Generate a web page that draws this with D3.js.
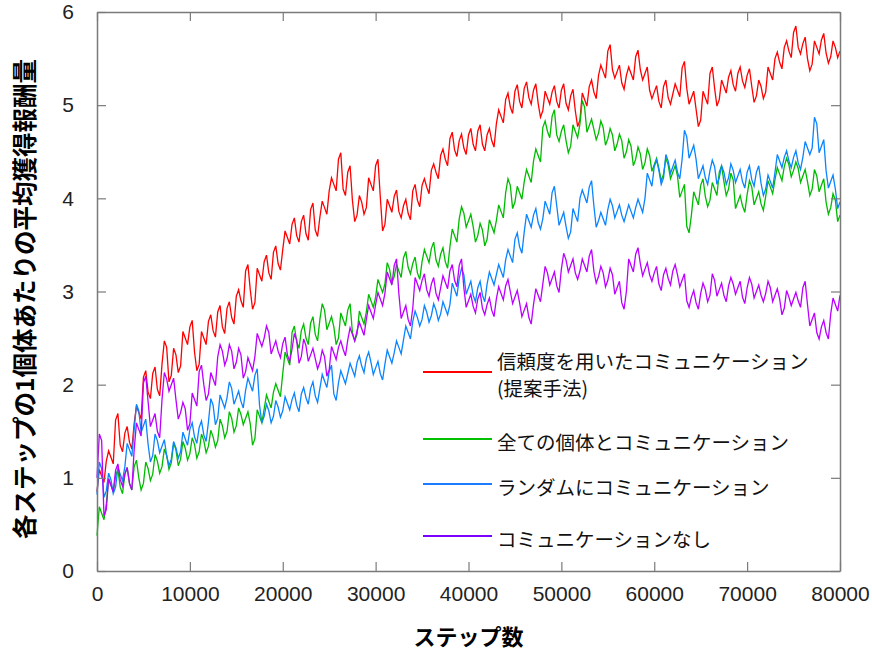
<!DOCTYPE html>
<html>
<head>
<meta charset="utf-8">
<script src="https://cdn.jsdelivr.net/npm/d3@7"></script>
<style>
  body { margin: 0; background: #fff; }
  .tick text { font-family: "Liberation Sans", Arial, sans-serif; fill: #222; }
  .jp { font-family: "Noto Sans CJK JP", sans-serif; }
</style>
</head>
<body>
<div id="chart"></div>
<script>
      // series values, one sample every 250 steps (0 .. 80000)
      var stepSize = 250;
      var proposed = [
        0.85,1.09,1.02,0.95,1.18,1.29,1.22,1.15,1.62,1.69,1.35,1.28,1.48,1.55,1.38,1.31,1.58,1.77,1.70,1.63,
        2.08,2.15,1.92,1.85,2.12,2.19,1.95,1.88,2.22,2.47,2.40,2.03,2.10,2.39,2.32,2.13,2.20,2.57,2.50,2.43,
        2.62,2.69,2.35,2.15,2.22,2.57,2.50,2.43,2.68,2.75,2.58,2.51,2.78,2.85,2.62,2.55,2.82,2.89,2.72,2.65,
        2.95,3.02,2.90,2.83,3.22,3.29,3.02,2.81,2.88,3.25,3.18,3.11,3.32,3.39,3.20,3.13,3.42,3.49,3.30,3.23,
        3.45,3.65,3.58,3.51,3.72,3.79,3.60,3.53,3.75,3.82,3.62,3.55,3.88,3.95,3.66,3.59,3.80,3.97,3.90,3.83,
        4.08,4.22,4.15,4.08,4.42,4.49,4.10,4.03,4.28,4.35,3.98,3.75,3.82,4.03,3.96,3.83,3.90,4.22,4.15,4.08,
        4.35,4.42,4.02,3.65,3.72,3.99,3.92,3.85,4.02,4.09,3.86,3.79,3.92,3.99,3.84,3.77,4.08,4.15,3.98,3.91,
        4.14,4.21,4.12,4.05,4.30,4.37,4.28,4.21,4.46,4.53,4.42,4.35,4.64,4.71,4.52,4.45,4.62,4.69,4.54,4.47,
        4.68,4.75,4.58,4.51,4.72,4.79,4.58,4.51,4.68,4.75,4.62,4.55,4.80,4.95,4.88,4.81,5.06,5.13,4.98,4.91,
        5.15,5.22,5.04,4.97,5.18,5.25,5.08,5.01,5.16,5.23,5.02,4.87,4.94,5.15,5.08,5.01,5.14,5.21,5.04,4.97,
        5.16,5.23,5.02,4.95,5.10,5.17,4.94,4.77,4.84,5.13,5.06,4.99,5.20,5.27,5.14,5.07,5.32,5.43,5.36,5.29,
        5.58,5.65,5.38,5.29,5.36,5.43,5.24,5.17,5.32,5.41,5.34,5.27,5.52,5.59,5.38,5.27,5.34,5.41,5.16,5.07,
        5.14,5.21,5.04,4.97,5.20,5.27,5.08,5.01,5.12,5.23,5.16,5.09,5.40,5.47,5.18,5.01,5.08,5.15,4.96,4.77,
        4.84,5.15,5.08,5.01,5.34,5.41,5.18,4.99,5.06,5.27,5.20,5.13,5.30,5.37,5.22,5.15,5.34,5.41,5.26,5.19,
        5.32,5.39,5.20,5.03,5.10,5.27,5.20,5.07,5.14,5.41,5.34,5.27,5.50,5.57,5.46,5.39,5.62,5.69,5.58,5.51,
        5.78,5.85,5.62,5.55,5.66,5.73,5.50,5.37,5.44,5.69,5.62,5.55,5.70,5.77,5.56,5.45,5.52,5.69,5.62,5.51,
        5.58];
      var allComm = [
        0.38,0.69,0.62,0.55,0.72,0.99,0.92,0.85,1.02,1.09,0.90,0.83,1.04,1.11,0.94,0.87,1.12,1.19,1.00,0.87,
        0.94,1.17,1.10,0.97,1.04,1.25,1.18,1.05,1.12,1.31,1.24,1.09,1.16,1.37,1.30,1.13,1.20,1.39,1.32,1.19,
        1.26,1.43,1.36,1.21,1.28,1.47,1.40,1.27,1.34,1.51,1.44,1.33,1.40,1.63,1.56,1.43,1.50,1.71,1.64,1.49,
        1.56,1.75,1.68,1.57,1.64,1.71,1.58,1.35,1.42,1.73,1.66,1.59,1.74,1.89,1.82,1.75,1.92,2.01,1.94,1.87,
        2.12,2.35,2.28,2.21,2.56,2.63,2.46,2.39,2.58,2.65,2.50,2.43,2.66,2.73,2.54,2.47,2.70,2.87,2.80,2.59,
        2.66,2.73,2.62,2.43,2.50,2.77,2.70,2.63,2.80,2.87,2.56,2.47,2.54,2.79,2.72,2.65,2.78,2.97,2.90,2.83,
        2.94,3.13,3.06,2.99,3.08,3.31,3.24,3.09,3.16,3.29,3.22,3.15,3.36,3.43,3.26,3.19,3.30,3.37,3.20,3.13,
        3.32,3.45,3.38,3.31,3.46,3.53,3.34,3.27,3.40,3.47,3.32,3.25,3.48,3.67,3.60,3.53,3.78,3.91,3.84,3.69,
        3.76,3.83,3.70,3.53,3.60,3.73,3.66,3.49,3.56,3.77,3.70,3.63,3.76,3.93,3.86,3.79,4.06,4.21,4.14,3.89,
        3.96,4.13,4.06,3.99,4.18,4.31,4.24,4.17,4.40,4.53,4.46,4.39,4.76,4.83,4.72,4.65,4.88,4.95,4.68,4.61,
        4.72,4.79,4.62,4.49,4.56,4.79,4.72,4.65,4.80,5.05,4.98,4.71,4.78,4.85,4.74,4.63,4.70,4.83,4.76,4.57,
        4.64,4.75,4.68,4.51,4.58,4.69,4.62,4.43,4.50,4.63,4.56,4.35,4.42,4.55,4.48,4.31,4.38,4.53,4.46,4.29,
        4.36,4.43,4.32,4.19,4.26,4.43,4.36,4.21,4.28,4.35,4.24,4.01,4.08,4.15,3.70,3.63,3.82,4.07,4.00,3.93,
        4.14,4.21,4.02,3.91,3.98,4.17,4.10,4.03,4.28,4.35,4.18,4.03,4.10,4.27,4.20,3.89,3.96,4.03,3.92,3.85,
        4.04,4.19,4.12,3.93,4.00,4.07,3.94,3.87,4.02,4.19,4.12,4.05,4.20,4.33,4.26,4.19,4.34,4.43,4.36,4.23,
        4.30,4.39,4.32,4.17,4.24,4.31,4.18,4.03,4.10,4.31,4.24,4.07,4.14,4.21,3.96,3.83,3.90,4.05,3.98,3.75,
        3.82];
      var randomComm = [
        0.82,1.17,1.10,0.79,0.86,1.05,0.98,0.83,0.90,1.11,1.04,0.97,1.12,1.37,1.30,1.23,1.52,1.79,1.72,1.49,
        1.56,1.63,1.36,1.17,1.24,1.47,1.40,1.27,1.34,1.41,1.24,1.13,1.20,1.39,1.32,1.21,1.28,1.49,1.42,1.35,
        1.52,1.59,1.44,1.37,1.54,1.61,1.46,1.39,1.60,1.85,1.78,1.57,1.64,1.89,1.82,1.75,1.86,2.03,1.96,1.79,
        1.86,1.93,1.82,1.75,1.94,2.07,2.00,1.93,2.10,2.17,1.78,1.59,1.66,1.79,1.72,1.59,1.66,1.83,1.76,1.65,
        1.72,1.87,1.80,1.73,1.84,1.91,1.78,1.71,1.90,1.97,1.86,1.79,1.96,2.03,1.88,1.81,1.96,2.11,2.04,1.97,
        2.14,2.21,1.90,1.83,2.02,2.15,2.08,2.01,2.12,2.23,2.16,2.09,2.24,2.31,2.20,2.13,2.28,2.35,2.24,2.11,
        2.18,2.25,2.12,2.05,2.22,2.37,2.30,2.23,2.34,2.47,2.40,2.33,2.48,2.63,2.56,2.49,2.68,2.79,2.72,2.63,
        2.70,2.85,2.78,2.67,2.74,2.87,2.80,2.69,2.76,2.89,2.82,2.75,2.86,3.09,3.02,2.95,3.14,3.25,3.18,2.97,
        3.04,3.11,2.96,2.89,3.04,3.11,2.96,2.89,3.08,3.21,3.14,3.07,3.18,3.29,3.22,3.15,3.34,3.45,3.38,3.31,
        3.56,3.63,3.48,3.41,3.64,3.83,3.76,3.69,3.82,3.89,3.74,3.67,3.78,3.97,3.90,3.83,4.06,4.13,3.92,3.71,
        3.78,3.85,3.70,3.57,3.64,3.89,3.82,3.75,4.00,4.09,4.02,3.95,4.12,4.19,3.92,3.69,3.76,3.85,3.78,3.71,
        3.88,3.99,3.92,3.79,3.86,3.93,3.82,3.75,3.84,3.93,3.86,3.79,3.90,3.99,3.92,3.85,4.00,4.27,4.20,4.13,
        4.34,4.41,4.30,4.15,4.22,4.47,4.40,4.27,4.34,4.41,4.28,4.21,4.42,4.73,4.66,4.43,4.50,4.57,4.42,4.21,
        4.28,4.35,4.22,4.15,4.30,4.41,4.34,4.15,4.22,4.35,4.28,4.15,4.22,4.37,4.30,4.17,4.24,4.31,4.18,4.11,
        4.28,4.35,4.20,4.13,4.28,4.35,4.16,4.03,4.10,4.25,4.18,4.11,4.28,4.47,4.40,4.33,4.44,4.51,4.40,4.33,
        4.44,4.51,4.38,4.31,4.44,4.61,4.54,4.47,4.54,4.87,4.80,4.49,4.56,4.63,4.30,4.11,4.18,4.25,4.10,3.89,
        3.96];
      var noComm = [
        1.00,1.47,1.40,0.59,0.66,0.99,0.92,0.85,1.08,1.15,0.98,0.91,1.04,1.11,0.94,0.87,1.30,1.59,1.52,1.45,
        2.02,2.09,1.82,1.55,1.62,1.69,1.50,1.43,1.84,2.13,2.06,1.93,2.00,2.07,1.84,1.63,1.70,1.81,1.74,1.51,
        1.58,1.91,1.84,1.77,2.14,2.21,2.00,1.83,1.90,2.13,2.06,1.99,2.30,2.43,2.36,2.21,2.28,2.43,2.36,2.17,
        2.24,2.39,2.32,2.07,2.14,2.29,2.22,2.15,2.30,2.55,2.48,2.41,2.50,2.63,2.56,2.33,2.40,2.47,2.36,2.29,
        2.44,2.51,2.32,2.25,2.38,2.55,2.48,2.23,2.30,2.49,2.42,2.25,2.32,2.39,2.28,2.17,2.24,2.37,2.30,2.09,
        2.16,2.41,2.34,2.27,2.40,2.47,2.38,2.31,2.48,2.61,2.54,2.47,2.58,2.67,2.60,2.53,2.70,2.85,2.78,2.71,
        2.86,2.99,2.92,2.85,2.98,3.21,3.14,3.07,3.28,3.35,2.98,2.71,2.78,2.85,2.70,2.63,2.82,3.15,3.08,3.01,
        3.12,3.19,3.02,2.95,3.08,3.15,2.98,2.91,3.04,3.17,3.10,3.03,3.22,3.29,3.12,3.05,3.28,3.35,3.04,2.83,
        2.90,2.97,2.84,2.77,2.92,2.99,2.82,2.75,2.86,2.93,2.80,2.73,2.92,3.05,2.98,2.91,3.06,3.13,3.00,2.87,
        2.94,3.01,2.88,2.73,2.80,2.87,2.72,2.65,2.86,3.03,2.96,2.89,3.08,3.27,3.20,3.07,3.14,3.21,3.06,2.99,
        3.24,3.41,3.34,3.21,3.28,3.35,3.20,3.13,3.22,3.35,3.28,3.21,3.38,3.45,3.22,3.09,3.16,3.27,3.20,3.05,
        3.12,3.25,3.18,2.97,3.04,3.11,2.88,2.81,3.00,3.35,3.28,3.21,3.40,3.47,3.30,3.17,3.24,3.31,3.18,3.11,
        3.20,3.27,3.08,3.01,3.18,3.25,3.14,3.07,3.22,3.29,3.18,3.05,3.12,3.19,2.90,2.83,2.94,3.01,2.88,2.81,
        2.98,3.09,3.02,2.89,2.96,3.19,3.12,2.95,3.02,3.09,2.96,2.89,3.06,3.15,3.08,2.97,3.04,3.11,2.94,2.87,
        3.04,3.15,3.08,2.93,3.00,3.07,2.96,2.89,2.98,3.11,3.04,2.89,2.96,3.03,2.92,2.75,2.82,3.01,2.94,2.85,
        2.92,2.99,2.90,2.83,3.04,3.11,2.86,2.63,2.70,2.77,2.56,2.49,2.62,2.69,2.56,2.49,2.76,2.93,2.86,2.79,
        2.96];
      var seriesNames = ["信頼度を用いたコミュニケーション\n(提案手法)",
                         "全ての個体とコミュニケーション",
                         "ランダムにコミュニケーション",
                         "コミュニケーションなし"];
      var xTicks = [0, 10000, 20000, 30000, 40000, 50000, 60000, 70000, 80000];
      var yTicks = [0, 1, 2, 3, 4, 5, 6];
      var xTitle = "ステップ数";
      var yTitle = "各ステップの1個体あたりの平均獲得報酬量";

      var colors = ["#ff0000", "#00bb00", "#0a84ff", "#bb00ff"];
      var legendColors = ["#ff0000", "#00c000", "#1c7cff", "#7a00ff"];

      var width = 872;
      var height = 652;
      var margin = { top: 12, right: 32, bottom: 81, left: 97 };

      var svg = d3.select('#chart').append('svg')
                  .attr('width', width)
                  .attr('height', height);

      var x = d3.scaleLinear().domain([0, 80000]).range([margin.left, width - margin.right]);
      var y = d3.scaleLinear().domain([0, 6]).range([height - margin.bottom, margin.top]);

      var allSeries = [proposed, allComm, randomComm, noComm];

      // -----------------------------------
      // lines
      var line = d3.line()
                   .x(function(d, i){ return x(i * stepSize); })
                   .y(function(d){ return y(d); });

      svg.append('g').selectAll('path')
         .data(allSeries)
         .enter().append('path')
         .attr('d', line)
         .attr('fill', 'none')
         .attr('stroke', function(d, i){ return colors[i]; })
         .attr('stroke-width', 1.3);

      // -----------------------------------
      // axes, ticks point inward on all four sides
      var frameColor = '#7a7a7a';
      var tickLen = 9;
      var fmt = d3.format('d');
      var axisB = svg.append('g')
                     .attr('transform', 'translate(0,' + y(0) + ')')
                     .call(d3.axisBottom(x).tickValues(xTicks).tickFormat(fmt).tickSizeInner(-tickLen).tickSizeOuter(0).tickPadding(15));
      var axisT = svg.append('g')
                     .attr('transform', 'translate(0,' + y(6) + ')')
                     .call(d3.axisTop(x).tickValues(xTicks).tickSizeInner(-tickLen).tickSizeOuter(0).tickFormat(''));
      var axisL = svg.append('g')
                     .attr('transform', 'translate(' + x(0) + ',0)')
                     .call(d3.axisLeft(y).tickValues(yTicks).tickFormat(fmt).tickSizeInner(-tickLen).tickSizeOuter(0).tickPadding(23));
      var axisR = svg.append('g')
                     .attr('transform', 'translate(' + x(80000) + ',0)')
                     .call(d3.axisRight(y).tickValues(yTicks).tickSizeInner(-tickLen).tickSizeOuter(0).tickFormat(''));

      [axisB, axisT, axisL, axisR].forEach(function(a){
        a.select('.domain').attr('stroke', frameColor).attr('stroke-width', 1.5);
        a.selectAll('.tick line').attr('stroke', frameColor).attr('stroke-width', 1.2);
        a.selectAll('.tick text').attr('font-size', 21);
      });

      // -----------------------------------
      // axis titles
      svg.append('text').attr('class', 'jp')
         .attr('x', (x(0) + x(80000)) / 2)
         .attr('y', 645)
         .attr('text-anchor', 'middle')
         .attr('font-size', 22)
         .attr('font-weight', 'bold')
         .text(xTitle);

      svg.append('text').attr('class', 'jp')
         .attr('transform', 'translate(34,' + 299 + ') rotate(-90)')
         .attr('text-anchor', 'middle')
         .attr('font-size', 24.5)
         .attr('font-weight', 'bold')
         .text(yTitle);

      // -----------------------------------
      // legend
      var legendY = [372, 439, 484, 536];
      var legend = svg.append('g');
      seriesNames.forEach(function(name, i){
        legend.append('line')
              .attr('x1', 423).attr('x2', 492)
              .attr('y1', legendY[i]).attr('y2', legendY[i])
              .attr('stroke', legendColors[i])
              .attr('stroke-width', 2.2);
        var parts = name.split('\n');
        parts.forEach(function(p, j){
          legend.append('text').attr('class', 'jp')
                .attr('font-size', 19.5)
                .attr('fill', '#111')
                .attr('x', 497)
                .attr('y', (parts.length > 1 ? legendY[i] - 8 : legendY[i] + 6) + j * 27)
                .attr('dominant-baseline', 'middle')
                .text(p);
        });
      });
</script>
</body>
</html>
